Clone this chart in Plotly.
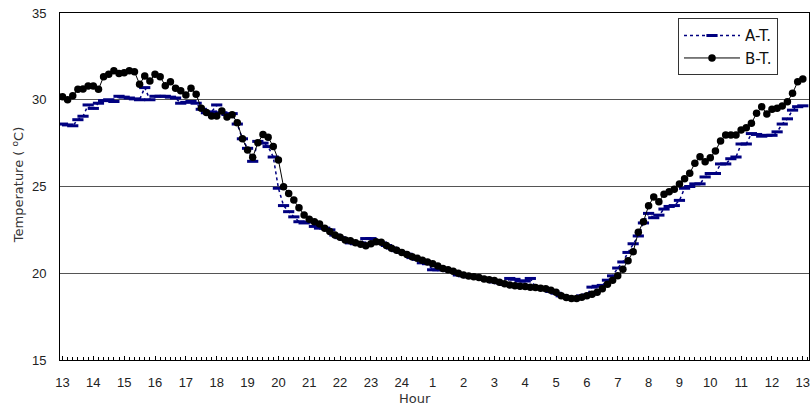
import plotly.graph_objects as go

# time offsets (hours after 13:00), one sample every 10 minutes
steps_per_hour = 6
n_points = 145
hours = [i / steps_per_hour for i in range(n_points)]

tick_vals = list(range(25))
tick_text = ["13", "14", "15", "16", "17", "18", "19", "20", "21", "22", "23", "24",
             "1", "2", "3", "4", "5", "6", "7", "8", "9", "10", "11", "12", "13"]

a_t = [
    28.6, 28.55, 28.5, 28.85, 29.05, 29.7,
    29.5, 29.8, 29.95, 30.0, 29.9, 30.2,
    30.15, 30.1, 30.05, 30.0, 30.7, 30.0,
    30.2, 30.2, 30.2, 30.15, 30.1, 29.8,
    29.85, 29.9, 29.8, 29.45, 29.25, 29.3,
    29.7, 29.25, 29.15, 29.2, 28.6, 27.75,
    27.2, 26.45, 27.6, 27.5, 27.3, 26.7,
    24.9, 23.9, 23.55, 23.25, 22.97, 22.9,
    22.95, 22.7, 22.6, 22.6, 22.5, 22.2,
    22.05, 21.95, 21.75, 21.7, 21.75, 22.0,
    22.0, 21.8, 21.75, 21.6, 21.45, 21.3,
    21.2, 21.1, 20.9, 20.8, 20.6, 20.55,
    20.2, 20.2, 20.2, 20.15, 20.1, 19.9,
    19.85, 19.8, 19.8, 19.7, 19.65, 19.6,
    19.5, 19.45, 19.35, 19.7, 19.65, 19.55,
    19.55, 19.7, 19.2, 19.15, 19.1, 18.95,
    18.85, 18.7, 18.6, 18.6, 18.6, 18.7,
    18.75, 19.2, 19.25, 19.3, 19.6, 19.85,
    20.3, 20.65, 21.2, 21.7, 22.15, 22.9,
    23.45, 23.2, 23.35, 23.7, 23.85, 23.9,
    24.2, 24.9, 25.0, 25.15, 25.15, 25.55,
    25.75, 25.75, 26.3, 26.3, 26.6, 26.7,
    27.45, 27.45, 28.05, 28.0, 27.9, 27.95,
    27.95, 28.15, 28.6, 28.9, 29.4, 29.6,
    29.65,
]

b_t = [
    30.18, 30.0, 30.23, 30.6, 30.62, 30.79,
    30.79, 30.6, 31.33, 31.47, 31.67, 31.52,
    31.56, 31.67, 31.62, 30.9, 31.37, 31.08,
    31.47, 31.33, 30.81, 31.04, 30.66, 30.52,
    30.27, 30.66, 30.31, 29.51, 29.26, 29.06,
    29.06, 29.35, 29.0, 29.14, 28.68, 27.75,
    27.1, 26.68, 27.52, 28.0, 27.84, 27.3,
    26.53, 24.99, 24.6, 24.22, 23.78, 23.36,
    23.11, 22.97, 22.84, 22.59, 22.4, 22.2,
    22.07, 21.92, 21.88, 21.76, 21.67, 21.59,
    21.7, 21.82, 21.78, 21.6, 21.44, 21.32,
    21.2, 21.08, 20.95, 20.86, 20.75, 20.65,
    20.55, 20.42, 20.28, 20.2, 20.12, 20.0,
    19.9, 19.84, 19.8, 19.75, 19.67, 19.63,
    19.58, 19.48, 19.4, 19.32, 19.28, 19.25,
    19.23, 19.2, 19.18, 19.14, 19.1, 19.02,
    18.9, 18.7, 18.6, 18.55, 18.55, 18.62,
    18.7, 18.79, 18.9, 19.1, 19.36, 19.6,
    19.86, 20.23, 20.72, 21.24, 22.36, 22.97,
    23.89, 24.4, 24.12, 24.55, 24.7, 24.84,
    25.14, 25.45, 25.76, 26.34, 26.72, 26.43,
    26.66, 27.05, 27.62, 27.97, 27.97, 27.97,
    28.26, 28.39, 28.64, 29.22, 29.6, 29.18,
    29.45, 29.51, 29.64, 29.89, 30.37, 31.04,
    31.2,
]

FONT = "Liberation Sans, Arial, sans-serif"
WIDE = "DejaVu Sans, sans-serif"

fig = go.Figure()
fig.add_trace(go.Scatter(
    x=hours, y=a_t, name="A-T.", mode="lines+markers",
    line=dict(color="#000080", width=1.5, dash="dot"),
    marker=dict(symbol="line-ew", size=8, color="#000080",
                line=dict(color="#000080", width=3)),
))
fig.add_trace(go.Scatter(
    x=hours, y=b_t, name="B-T.", mode="lines+markers",
    line=dict(color="black", width=1),
    marker=dict(symbol="circle", size=7.5, color="black"),
))

fig.update_layout(
    width=811, height=410,
    margin=dict(l=60, r=2, t=13, b=50),
    paper_bgcolor="white", plot_bgcolor="white",
    font=dict(family=FONT, size=13, color="#222"),
    showlegend=True,
    legend=dict(x=0.9586, y=0.985, xanchor="right", yanchor="top",
                bgcolor="white", bordercolor="#333", borderwidth=1,
                font=dict(family=WIDE, size=15, color="#111"), itemwidth=56,
                tracegroupgap=0),
    xaxis=dict(
        range=[-0.08, 24.2], tickmode="array", tickvals=tick_vals, ticktext=tick_text,
        showgrid=False, zeroline=False,
        showline=True, linecolor="black", linewidth=1, mirror=True,
        ticks="inside", ticklen=4, tickcolor="black",
        minor=dict(dtick=1 / 6, tick0=0, ticks="inside", ticklen=3, tickcolor="black", showgrid=False),
        ticklabelstandoff=10,
        tickfont=dict(size=13, color="#222"),
    ),
    yaxis=dict(
        range=[15, 35], tickmode="array", tickvals=[15, 20, 25, 30, 35],
        showgrid=True, gridcolor="#555", gridwidth=1, zeroline=False,
        showline=True, linecolor="black", linewidth=1, mirror=True,
        ticks="", ticklabelstandoff=10,
        tickfont=dict(size=13, color="#222"),
    ),
    annotations=[
        dict(text="Temperature ( <sup>o</sup>C)", xref="paper", yref="paper",
             x=-0.056, y=0.504, textangle=-90, showarrow=False,
             xanchor="center", yanchor="middle", font=dict(family=WIDE, size=13, color="#333")),
        dict(text="Hour", xref="paper", yref="paper", x=0.474, y=-0.11,
             showarrow=False, xanchor="center", yanchor="middle",
             font=dict(family=WIDE, size=13, color="#333")),
    ],
)

fig.write_html("out.html")
